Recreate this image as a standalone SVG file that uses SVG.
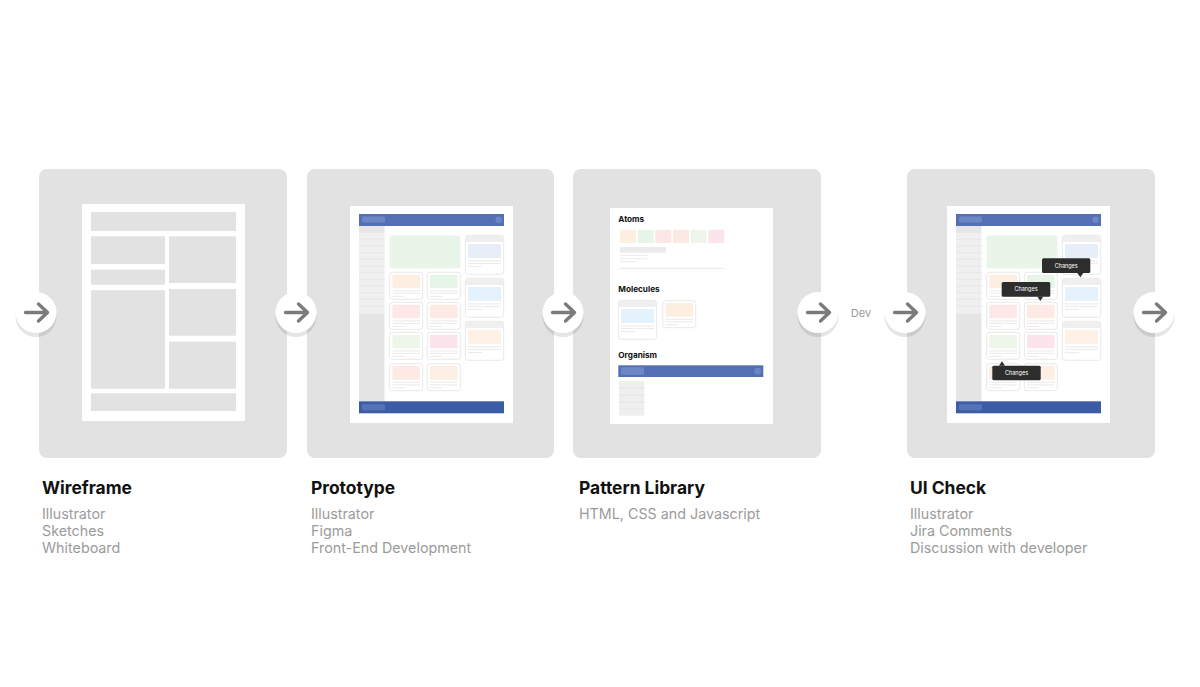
<svg xmlns="http://www.w3.org/2000/svg" xmlns:xlink="http://www.w3.org/1999/xlink" width="1200" height="687" viewBox="0 0 1200 687">
<style>
.panel{fill:#e2e2e2}
.page{fill:#ffffff}
.wf{fill:#e2e2e2}
.title{font-family:Inter,"Liberation Sans",sans-serif;font-weight:700;font-size:17.4px;fill:#111111}
.sub{font-family:Inter,"Liberation Sans",sans-serif;font-size:14.3px;fill:#9b9b9b}
.h{font-family:Inter,"Liberation Sans",sans-serif;font-weight:700;font-size:8.2px;fill:#111111}
.dev{font-family:Inter,"Liberation Sans",sans-serif;font-size:11px;fill:#999999}
.tip{fill:#2d2d2d}
.tipt{font-family:Inter,"Liberation Sans",sans-serif;font-size:5.5px;fill:#ffffff;text-anchor:middle}
.card{fill:#ffffff;stroke:#e6e6e6;stroke-width:0.9}
.ln{fill:#ededed}
.sideline{stroke:#e3e3e3;stroke-width:0.8}
.hbar{fill:#5470b5}
.fbar{fill:#3d5ca8}
.pill{fill:#6d87c6}
.btn{fill:#ffffff}
.shadow{fill:#000000;opacity:0.1}
.arr{fill:none;stroke:#7b7b7b;stroke-width:3.4;stroke-linecap:round;stroke-linejoin:round}
</style>
<defs>
<g id="card">
<rect class="card" x="0" y="0" width="33" height="27" rx="2.5"/>
<rect class="ln" x="2.7" y="18" width="27.6" height="1.2"/>
<rect class="ln" x="2.7" y="20.5" width="27.6" height="1.2"/>
<rect class="ln" x="2.7" y="23.5" width="12" height="1.2"/>
</g>
<g id="rcard">
<rect class="card" x="0" y="0" width="38.4" height="39" rx="2.5"/>
<path d="M0.45 6.7 V2.5 a2.05 2.05 0 0 1 2.05 -2.05 H35.9 a2.05 2.05 0 0 1 2.05 2.05 V6.7 Z" fill="#efefef"/>
<rect class="ln" x="2.7" y="25" width="33" height="1.2"/>
<rect class="ln" x="2.7" y="27.6" width="33" height="1.2"/>
<rect class="ln" x="2.7" y="30.6" width="14" height="1.2"/>
</g>
<g id="screen">
<rect class="page" x="0" y="0" width="163" height="217"/>
<rect class="hbar" x="9" y="8" width="145" height="12"/>
<rect class="pill" x="12" y="10.5" width="23" height="6" rx="1.5"/>
<circle class="pill" cx="148.7" cy="13.8" r="3.2"/>
<rect x="9" y="20" width="25.5" height="7.3" fill="#e6e6e6"/>
<rect x="9" y="27.3" width="25.5" height="80" fill="#f0f0f0"/>
<rect x="9" y="107.3" width="25.5" height="88" fill="#e5e5e5"/>
<g class="sideline">
<line x1="9" y1="33.3" x2="34.5" y2="33.3"/>
<line x1="9" y1="40" x2="34.5" y2="40"/>
<line x1="9" y1="46.7" x2="34.5" y2="46.7"/>
<line x1="9" y1="53.3" x2="34.5" y2="53.3"/>
<line x1="9" y1="60" x2="34.5" y2="60"/>
<line x1="9" y1="66.7" x2="34.5" y2="66.7"/>
<line x1="9" y1="73.3" x2="34.5" y2="73.3"/>
<line x1="9" y1="80" x2="34.5" y2="80"/>
<line x1="9" y1="86.7" x2="34.5" y2="86.7"/>
<line x1="9" y1="93.3" x2="34.5" y2="93.3"/>
<line x1="9" y1="100" x2="34.5" y2="100"/>
</g>
<rect class="fbar" x="9" y="195.3" width="145" height="12"/>
<rect x="12" y="198.3" width="23" height="6" rx="1.5" fill="#5673b8"/>
<rect x="39.5" y="29.5" width="71" height="33" rx="2" fill="#eaf5ea"/>
<use xlink:href="#card" x="39.7" y="66.3"/>
<rect x="42.4" y="68.7" width="27.6" height="13.6" rx="1" fill="#fdeee2"/>
<use xlink:href="#card" x="77.3" y="66.3"/>
<rect x="80" y="68.7" width="27.6" height="13.6" rx="1" fill="#e6f5e7"/>
<use xlink:href="#card" x="39.7" y="96.3"/>
<rect x="42.4" y="98.7" width="27.6" height="13.6" rx="1" fill="#fde7e7"/>
<use xlink:href="#card" x="77.3" y="96.3"/>
<rect x="80" y="98.7" width="27.6" height="13.6" rx="1" fill="#fdeae4"/>
<use xlink:href="#card" x="39.7" y="126.3"/>
<rect x="42.4" y="128.7" width="27.6" height="13.6" rx="1" fill="#edf6e8"/>
<use xlink:href="#card" x="77.3" y="126.3"/>
<rect x="80" y="128.7" width="27.6" height="13.6" rx="1" fill="#fce4ec"/>
<use xlink:href="#card" x="39.7" y="157.7"/>
<rect x="42.4" y="160.1" width="27.6" height="13.6" rx="1" fill="#fdeae5"/>
<use xlink:href="#card" x="77.3" y="157.7"/>
<rect x="80" y="160.1" width="27.6" height="13.6" rx="1" fill="#fdefe3"/>
<use xlink:href="#rcard" x="115.3" y="29.3"/>
<rect x="118" y="38" width="33" height="14" rx="1" fill="#e8eef8"/>
<use xlink:href="#rcard" x="115.3" y="72.3"/>
<rect x="118" y="81" width="33" height="14" rx="1" fill="#e4f3fb"/>
<use xlink:href="#rcard" x="115.3" y="115.3"/>
<rect x="118" y="124" width="33" height="14" rx="1" fill="#fdf1e6"/>
</g>
<g id="btn">
<circle class="shadow" cx="0" cy="4" r="20.5"/>
<circle class="btn" cx="0" cy="0" r="20.5"/>
<path class="arr" d="M-10.5 0 H11.5 M2.5 -8.5 L11.5 0 L2.5 8.5"/>
</g>
</defs>

<g id="wireframe">
<rect class="panel" x="39" y="169" width="248" height="289" rx="8"/>
<rect class="page" x="82" y="204" width="163" height="217"/>
<rect class="wf" x="91" y="212" width="145" height="19"/>
<rect class="wf" x="91" y="236.3" width="74" height="27.7"/>
<rect class="wf" x="91" y="269.7" width="74" height="15"/>
<rect class="wf" x="91" y="290.3" width="74" height="98.4"/>
<rect class="wf" x="169" y="236.3" width="67" height="46.7"/>
<rect class="wf" x="169" y="289" width="67" height="46.7"/>
<rect class="wf" x="169" y="341.7" width="67" height="47"/>
<rect class="wf" x="91" y="393.3" width="145" height="17.7"/>
<text class="title" x="42" y="494">Wireframe</text>
<text class="sub" x="42" y="519">Illustrator</text>
<text class="sub" x="42" y="536">Sketches</text>
<text class="sub" x="42" y="553">Whiteboard</text>
</g>

<g id="prototype">
<rect class="panel" x="307" y="169" width="247" height="289" rx="8"/>
<use xlink:href="#screen" x="350" y="206"/>
<text class="title" x="311" y="494">Prototype</text>
<text class="sub" x="311" y="519">Illustrator</text>
<text class="sub" x="311" y="536">Figma</text>
<text class="sub" x="311" y="553">Front-End Development</text>
</g>

<g id="pattern-library">
<rect class="panel" x="573" y="169" width="248" height="289" rx="8"/>
<rect class="page" x="610" y="208" width="163" height="216"/>
<text class="h" x="618.3" y="222.3">Atoms</text>
<rect x="620" y="229.7" width="16" height="13.3" rx="1" fill="#fdeee2"/>
<rect x="637.7" y="229.7" width="16" height="13.3" rx="1" fill="#e8f5e8"/>
<rect x="655.3" y="229.7" width="16" height="13.3" rx="1" fill="#fde6e8"/>
<rect x="673" y="229.7" width="16" height="13.3" rx="1" fill="#fde9e4"/>
<rect x="690.7" y="229.7" width="16" height="13.3" rx="1" fill="#eef6ea"/>
<rect x="708.3" y="229.7" width="16" height="13.3" rx="1" fill="#fbe4ec"/>
<rect x="620" y="247" width="46" height="5.7" fill="#ebebeb"/>
<rect class="ln" x="620" y="254.8" width="27.7" height="1.1"/>
<rect class="ln" x="620" y="258.2" width="27.7" height="1.1"/>
<rect class="ln" x="620" y="261.2" width="15.7" height="1.1"/>
<rect x="620" y="267.8" width="103.7" height="1" fill="#e8e8e8"/>
<text class="h" x="618.3" y="291.7">Molecules</text>
<use xlink:href="#rcard" x="618.3" y="300.3"/>
<rect x="621" y="309" width="33" height="14" rx="1" fill="#e4f3fb"/>
<use xlink:href="#card" x="662.8" y="300.7"/>
<rect x="665.5" y="303.1" width="27.6" height="13.6" rx="1" fill="#fdeee2"/>
<text class="h" x="618.3" y="358.3">Organism</text>
<rect class="hbar" x="618.3" y="365.3" width="145" height="11.7"/>
<rect class="pill" x="621" y="367.3" width="23" height="7.4" rx="1.5"/>
<circle class="pill" cx="757.7" cy="371.1" r="3.4"/>
<rect x="619" y="381" width="25.3" height="34.7" fill="#efefef"/>
<g class="sideline">
<line x1="619" y1="388.3" x2="644.3" y2="388.3"/>
<line x1="619" y1="395.3" x2="644.3" y2="395.3"/>
<line x1="619" y1="402.3" x2="644.3" y2="402.3"/>
<line x1="619" y1="408.7" x2="644.3" y2="408.7"/>
</g>
<text class="title" x="579" y="494">Pattern Library</text>
<text class="sub" x="579" y="519">HTML, CSS and Javascript</text>
</g>

<g id="ui-check">
<rect class="panel" x="907" y="169" width="248" height="289" rx="8"/>
<use xlink:href="#screen" x="947" y="206"/>
<g id="tip1">
<rect class="tip" x="1042" y="258.3" width="48.3" height="14.7" rx="1.5"/>
<path class="tip" d="M1077.3 272.9 L1080.3 277.3 L1083.3 272.9 Z"/>
<text class="tipt" x="1066.2" y="267.6">Changes</text>
</g>
<g id="tip2">
<rect class="tip" x="1001.7" y="282" width="48.6" height="14.7" rx="1.5"/>
<path class="tip" d="M1037.3 296.6 L1040.3 301 L1043.3 296.6 Z"/>
<text class="tipt" x="1026" y="291.3">Changes</text>
</g>
<g id="tip3">
<rect class="tip" x="992.3" y="365.7" width="48.4" height="14.6" rx="1.5"/>
<path class="tip" d="M999 365.8 L1002 361.3 L1005 365.8 Z"/>
<text class="tipt" x="1016.5" y="375">Changes</text>
</g>
<text class="title" x="910" y="494">UI Check</text>
<text class="sub" x="910" y="519">Illustrator</text>
<text class="sub" x="910" y="536">Jira Comments</text>
<text class="sub" x="910" y="553">Discussion with developer</text>
</g>

<g id="connectors">
<use xlink:href="#btn" x="36" y="312.5"/>
<use xlink:href="#btn" x="296" y="312.5"/>
<use xlink:href="#btn" x="563" y="312.5"/>
<use xlink:href="#btn" x="818" y="312.5"/>
<text class="dev" x="861" y="317" text-anchor="middle">Dev</text>
<use xlink:href="#btn" x="905" y="312.5"/>
<use xlink:href="#btn" x="1154" y="312.5"/>
</g>
</svg>
